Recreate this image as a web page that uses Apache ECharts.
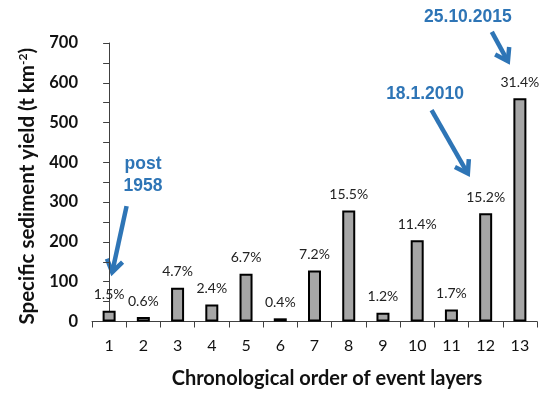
<!DOCTYPE html>
<html><head><meta charset="utf-8">
<script src="https://cdn.jsdelivr.net/npm/echarts@6/dist/echarts.min.js"></script>
<style>html,body{margin:0;padding:0;background:#fff}#c{width:550px;height:399px}</style>
</head><body><div id="c"></div>
<script>
const categories = ['1','2','3','4','5','6','7','8','9','10','11','12','13'];
const yieldValues = [27, 11, 85, 43, 120, 8, 128, 279, 22, 204, 30, 272, 561];
const shareLabels = ['1.5%','0.6%','4.7%','2.4%','6.7%','0.4%','7.2%','15.5%','1.2%','11.4%','1.7%','15.2%','31.4%'];
const yMin = 0, yMax = 700, yInterval = 100;
const annotationTexts = ['post\n1958', '18.1.2010', '25.10.2015'];
// annotation anchors in data units (x = category index, y = axis value)
const annotationTextAt = [[0.99, 368], [9.23, 571], [10.48, 764]];
const arrowFrom = [[0.51, 290], [9.42, 531], [11.18, 728]];
const arrowTo = [[0.09, 124], [10.48, 372], [11.65, 654]];

const chart = echarts.init(document.getElementById('c'));
const axisColor = '#404040';
chart.setOption({
  animation: false,
  grid: {left: 92, right: 13, top: 43, bottom: 77.5},
  xAxis: [{
    type: 'category', data: categories,
    name: 'Chronological order of event layers', nameLocation: 'middle', nameGap: 47,
    nameTextStyle: {fontFamily: 'Lato', fontWeight: 'bold', fontSize: 20, color: '#111', padding: [0, 0, 0, 25]},
    axisLine: {lineStyle: {color: axisColor, width: 1}},
    axisTick: {show: true, length: 6, lineStyle: {color: axisColor}},
    axisLabel: {fontFamily: 'Lato', fontSize: 16, color: '#111', margin: 16}
  }, {
    type: 'value', min: -0.5, max: 12.5, show: false
  }],
  yAxis: {
    type: 'value', min: yMin, max: yMax, interval: yInterval,
    name: 'Specific sediment yield (t km{sup|-2})', nameLocation: 'middle', nameGap: 47,
    nameTextStyle: {fontFamily: 'Lato', fontWeight: 'bold', fontSize: 20.5, color: '#111', padding: [0, 8, 0, 0],
      rich: {sup: {fontFamily: 'Lato', fontWeight: 'bold', fontSize: 12, color: '#111', verticalAlign: 'top', padding: [0, 0, 9, 0]}}},
    axisLine: {show: true, lineStyle: {color: axisColor, width: 1}},
    axisTick: {show: true, length: 6, lineStyle: {color: axisColor}},
    minorTick: {show: true, splitNumber: 2, length: 6, lineStyle: {color: axisColor}},
    splitLine: {show: false},
    axisLabel: {fontFamily: 'Lato', fontWeight: 'bold', fontSize: 16.5, color: '#111', margin: 14}
  },
  series: [{
    type: 'bar', data: yieldValues, barWidth: 13,
    itemStyle: {color: '#a6a6a6', borderColor: '#000', borderWidth: 2},
    label: {show: true, position: 'top', distance: 9, fontFamily: 'Lato', fontSize: 14, color: '#222',
      formatter: p => shareLabels[p.dataIndex]}
  }]
});

function px(pt) { return chart.convertToPixel({xAxisIndex: 1, yAxisIndex: 0}, pt); }
const blue = '#2e75b6';
const graphics = [];
annotationTexts.forEach((t, i) => {
  const c = px(annotationTextAt[i]);
  graphics.push({type: 'text', x: c[0], y: c[1], style: {text: t, fill: blue,
    font: 'bold 17.5px "Liberation Sans", Arial, sans-serif', textAlign: 'center', textVerticalAlign: 'middle', lineHeight: 22}});
  const a = px(arrowFrom[i]), b = px(arrowTo[i]);
  const dx = b[0] - a[0], dy = b[1] - a[1], len = Math.hypot(dx, dy);
  const ux = dx / len, uy = dy / len, nx = -uy, ny = ux;
  const L = 12, W = 8;
  graphics.push({type: 'polyline', shape: {points: [a, [b[0] - ux * 2, b[1] - uy * 2]]},
    style: {stroke: blue, lineWidth: 4.5, fill: null}});
  graphics.push({type: 'polyline', shape: {points: [
    [b[0] - ux * L + nx * W, b[1] - uy * L + ny * W], b, [b[0] - ux * L - nx * W, b[1] - uy * L - ny * W]]},
    style: {stroke: blue, lineWidth: 4.5, fill: null, lineJoin: 'miter'}});
});
chart.setOption({graphic: graphics});
</script></body></html>
